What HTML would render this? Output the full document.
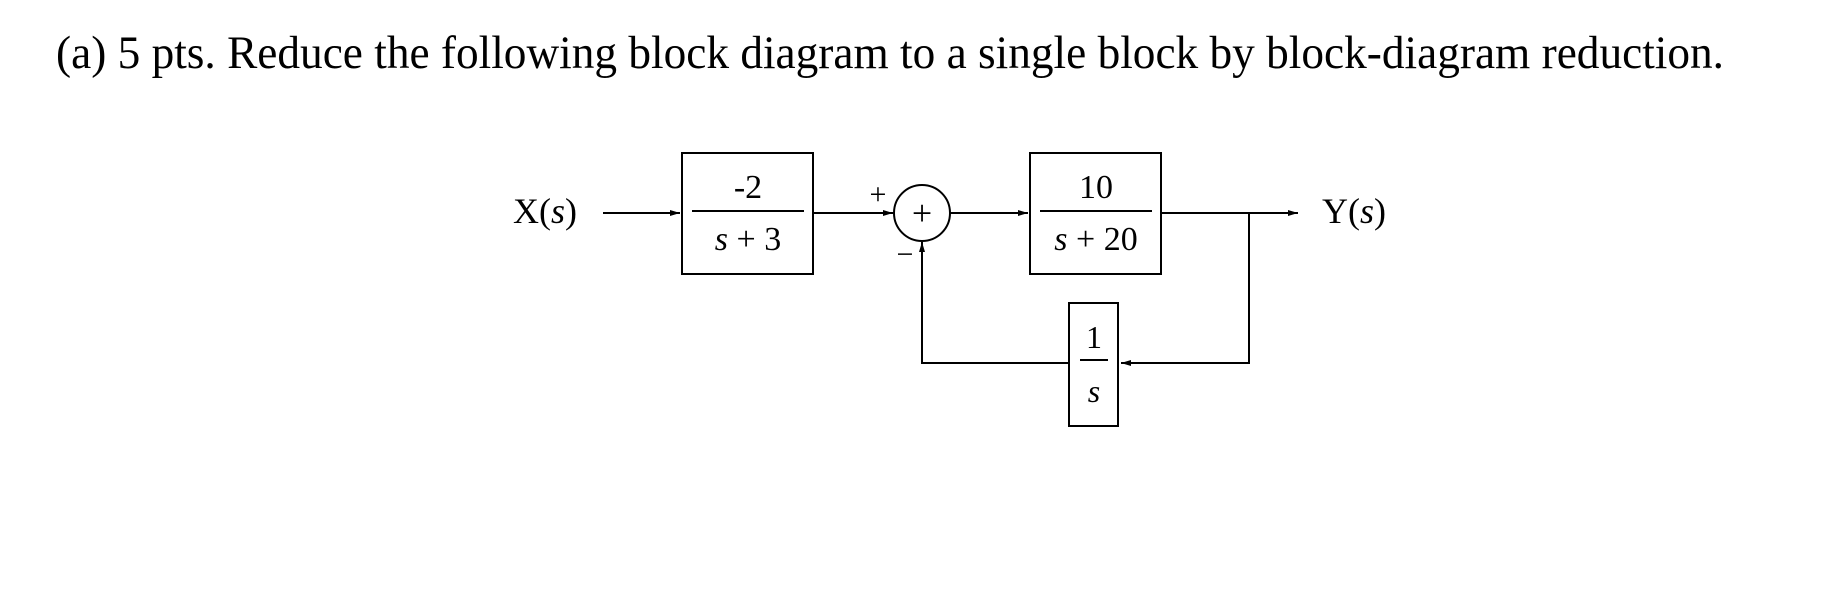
<!DOCTYPE html>
<html><head><meta charset="utf-8"><style>html,body{margin:0;padding:0;background:#fff}svg{display:block}</style></head>
<body>
<svg width="1830" height="594" viewBox="0 0 1830 594" xmlns="http://www.w3.org/2000/svg" font-family="Liberation Serif, serif" fill="#000">
<defs>
<marker id="ar" markerWidth="10" markerHeight="8" refX="10" refY="4" orient="auto" markerUnits="userSpaceOnUse">
<path d="M0,1 L10,4 L0,7 Z" fill="#000"/>
</marker>
</defs>
<text x="56" y="68" font-size="47" textLength="1668" lengthAdjust="spacingAndGlyphs">(a) 5 pts. Reduce the following block diagram to a single block by block-diagram reduction.</text>
<g stroke="#000" stroke-width="2" fill="none">
<line x1="603" y1="213" x2="680" y2="213" marker-end="url(#ar)"/>
<rect x="682" y="153" width="131" height="121"/>
<line x1="692" y1="211" x2="804" y2="211"/>
<line x1="813" y1="213" x2="893" y2="213" marker-end="url(#ar)"/>
<circle cx="922" cy="213" r="28"/>
<line x1="950" y1="213" x2="1028" y2="213" marker-end="url(#ar)"/>
<rect x="1030" y="153" width="131" height="121"/>
<line x1="1040" y1="211" x2="1152" y2="211"/>
<line x1="1161" y1="213" x2="1298" y2="213" marker-end="url(#ar)"/>
<polyline points="1249,213 1249,363 1121,363" marker-end="url(#ar)"/>
<rect x="1069" y="303" width="49" height="123"/>
<line x1="1080" y1="360" x2="1108" y2="360"/>
<polyline points="1069,363 922,363 922,242" marker-end="url(#ar)"/>
</g>
<text x="513" y="223" font-size="36">X(<tspan font-style="italic">s</tspan>)</text>
<text x="1322" y="223" font-size="36">Y(<tspan font-style="italic">s</tspan>)</text>
<text x="748" y="198" font-size="34" text-anchor="middle">-2</text>
<text x="748" y="250" font-size="34" text-anchor="middle"><tspan font-style="italic">s</tspan> + 3</text>
<text x="1096" y="198" font-size="34" text-anchor="middle">10</text>
<text x="1096" y="250" font-size="34" text-anchor="middle"><tspan font-style="italic">s</tspan> + 20</text>
<text x="1094" y="348" font-size="32" text-anchor="middle">1</text>
<text x="1094" y="402" font-size="32" text-anchor="middle" font-style="italic">s</text>
<text x="922" y="225" font-size="36" text-anchor="middle">+</text>
<text x="878" y="204" font-size="30" text-anchor="middle">+</text>
<text x="905" y="264" font-size="30" text-anchor="middle">−</text>
</svg>
</body></html>
